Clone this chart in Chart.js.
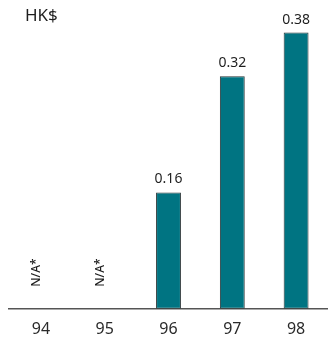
<!DOCTYPE html>
<html>
<head>
<meta charset="utf-8">
<script src="https://cdn.jsdelivr.net/npm/chart.js@4"></script>
<style>
  html, body { margin: 0; padding: 0; background: #fff; }
  #wrap { width: 328px; height: 338px; }
</style>
</head>
<body>
<div id="wrap"><canvas id="dpsChart"></canvas></div>
<script>
var years = ["94", "95", "96", "97", "98"];
var dividends = [null, null, 0.16, 0.32, 0.38];
var valueLabels = ["N/A*", "N/A*", "0.16", "0.32", "0.38"];
var unitLabel = "HK$";

var FONT = "'Noto Sans', 'Open Sans', sans-serif";

// draws the unit, the values above the bars and the rotated N/A* notes
var labelPlugin = {
  id: "barLabels",
  afterDatasetsDraw: function (chart) {
    var ctx = chart.ctx;
    var meta = chart.getDatasetMeta(0);
    var xScale = chart.scales.x;
    var yScale = chart.scales.y;
    ctx.save();
    ctx.fillStyle = "#1e1e1e";
    ctx.font = "17px " + FONT;
    ctx.textAlign = "left";
    ctx.textBaseline = "middle";
    ctx.fillText(unitLabel, 25, 16);

    ctx.font = "14px " + FONT;
    meta.data.forEach(function (bar, i) {
      if (dividends[i] === null) {
        var x = xScale.getPixelForValue(i);
        var y = yScale.getPixelForValue(0);
        ctx.save();
        ctx.translate(x - 4, y - 22);
        ctx.rotate(-Math.PI / 2);
        ctx.font = "500 12px " + FONT;
        ctx.textAlign = "left";
        ctx.textBaseline = "middle";
        ctx.fillText(valueLabels[i], 0, 0);
        ctx.restore();
      } else {
        ctx.textAlign = "center";
        ctx.textBaseline = "alphabetic";
        ctx.fillText(valueLabels[i], bar.x, bar.y - 9);
      }
    });
    ctx.restore();
  },
};

var chart = new Chart(document.getElementById("dpsChart").getContext("2d"), {
  type: "bar",
  data: {
    labels: years,
    datasets: [
      {
        data: dividends,
        backgroundColor: "#007482",
        borderColor: "#2a3436",
        borderWidth: 1,
        borderSkipped: false,
        barPercentage: 0.39,
        categoryPercentage: 1,
      },
    ],
  },
  options: {
    responsive: true,
    maintainAspectRatio: false,
    animation: false,
    layout: { padding: { left: 9, right: 0, top: 18, bottom: -12 } },
    plugins: {
      legend: { display: false },
      tooltip: { enabled: false },
    },
    scales: {
      x: {
        grid: { display: false, drawTicks: false },
        border: { display: true, color: "#555", width: 1.5 },
        ticks: {
          color: "#2a2a2a",
          font: { size: 16, family: FONT },
          padding: 11,
        },
      },
      y: {
        display: false,
        min: 0,
        max: 0.4,
      },
    },
  },
  plugins: [labelPlugin],
});
</script>
</body>
</html>
